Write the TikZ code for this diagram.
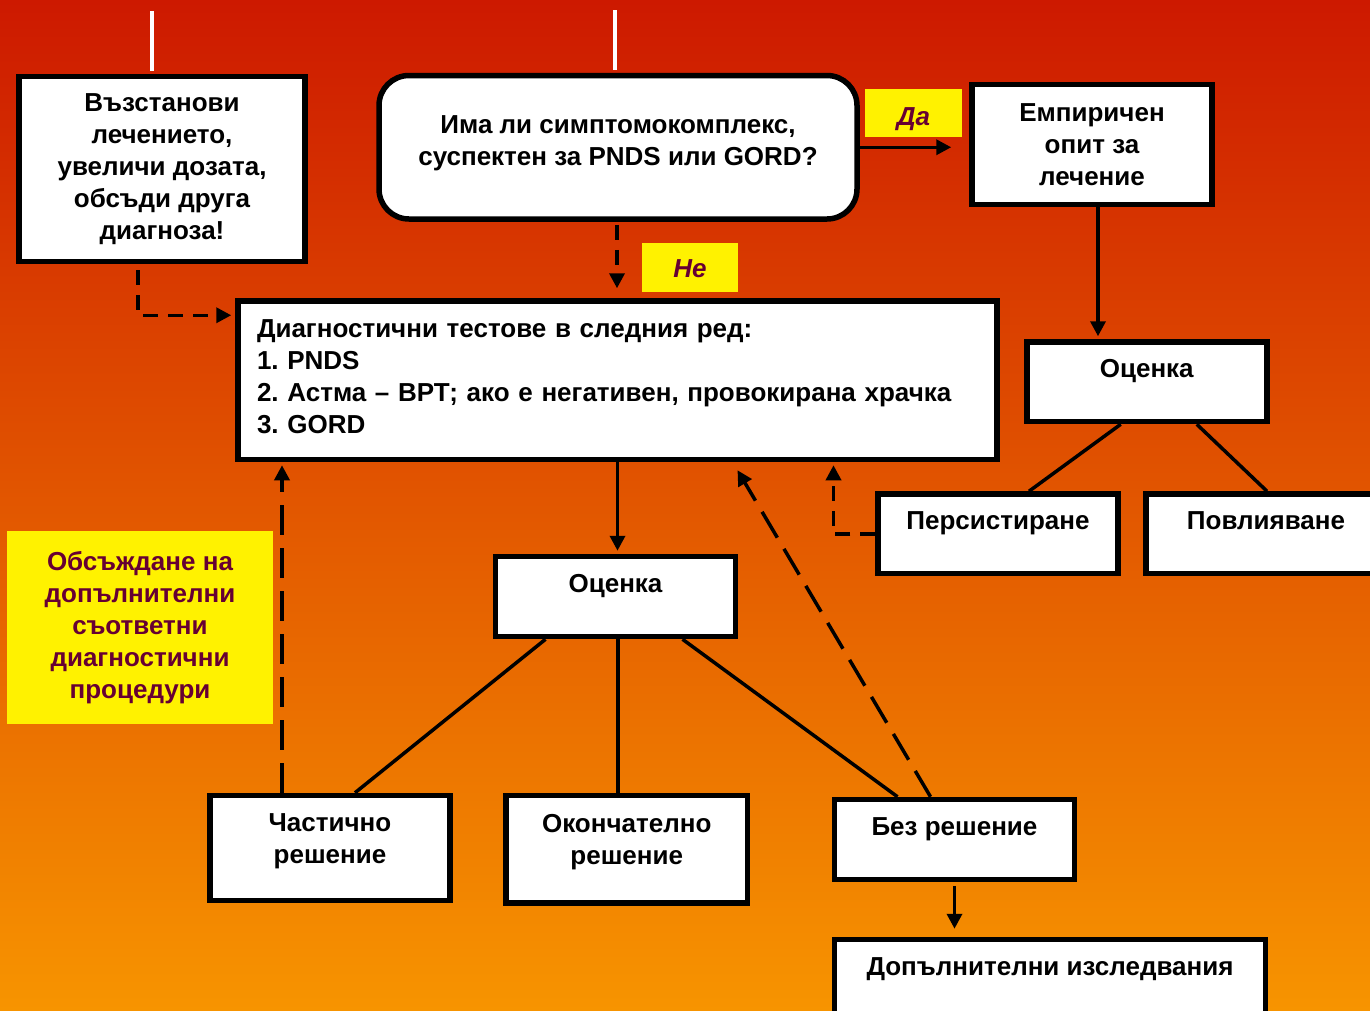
\documentclass[tikz,border=0pt]{standalone}
\usepackage{fontspec}
\setmainfont{Liberation Sans}
\usetikzlibrary{arrows.meta}
\frenchspacing

\definecolor{bgtop}{RGB}{205,25,0}
\definecolor{bgbot}{RGB}{247,148,0}
\definecolor{notered}{RGB}{102,0,51}

\begin{document}
\begin{tikzpicture}[x=1pt, y=-1pt,
  box/.style={draw, line width=5.5pt, fill=white, inner sep=0pt,
    font=\fontsize{26}{32}\selectfont\bfseries},
  upper/.style={text height=19pt, text depth=28pt},
  note/.style={fill=yellow, text=notered, inner sep=0pt,
    font=\fontsize{26}{32}\selectfont\bfseries},
  answer/.style={note, font=\fontsize{26}{32}\selectfont\bfseries\itshape},
  link/.style={line width=3.5pt},
  arr/.style={link, -{Triangle[length=15pt, width=15pt]}},
  dlink/.style={arr, dash pattern=on 15pt off 10pt},
  dlong/.style={arr, dash pattern=on 30pt off 13pt}]

  % -- Background --
  \useasboundingbox (0,0) rectangle (1370,1010);
  \shade[top color=bgtop, bottom color=bgbot] (0,0) rectangle (1370,1010);

  % -- Top row --
  \node[box, minimum width=286pt, minimum height=185pt, align=center] (restore) at (162,169)
    {Възстанови\\лечението,\\увеличи дозата,\\обсъди друга\\диагноза!};
  \node[box, rounded corners=30pt, minimum width=478pt, minimum height=143.5pt, align=center,
    text height=51pt, text depth=14pt] (question) at (618,147.25)
    {Има ли симптомокомплекс,\\суспектен за PNDS или GORD?};
  \node[box, minimum width=240pt, minimum height=120pt, align=center] (empirical) at (1092,144.5)
    {Емпиричен\\опит за\\лечение};
  \node[answer, minimum width=97pt, minimum height=48pt, text height=30pt, text depth=5pt] (yes) at (913.5,113) {Да};
  \node[answer, minimum width=96pt, minimum height=49pt, text height=24pt, text depth=5pt] (no) at (690,267.5) {Не};

  % -- Tests --
  \node[box, minimum width=759pt, minimum height=158.5pt, inner xsep=19pt, text width=721pt, align=left,
    text height=19pt, text depth=104pt] (tests) at (617.5,380.25)
    {Диагностични тестове в следния ред:\\1. PNDS\\2. Астма – ВРТ; ако е негативен, провокирана храчка\\3. GORD};

  % -- Empirical branch --
  \node[box, upper, minimum width=240pt, minimum height=79.5pt] (assessR) at (1146.75,381.75) {Оценка};
  \node[box, upper, minimum width=240pt, minimum height=79.5pt] (persist) at (998,533.75) {Персистиране};
  \node[box, upper, minimum width=240pt, minimum height=79.5pt] (respond) at (1266,533.75) {Повлияване};

  % -- Test branch --
  \node[box, upper, minimum width=240pt, minimum height=80pt] (assessM) at (615.5,596.5) {Оценка};
  \node[box, minimum width=240pt, minimum height=105pt, align=center,
    text height=51pt, text depth=20pt] (partial) at (330,848) {Частично\\решение};
  \node[box, minimum width=241.5pt, minimum height=107.5pt, align=center,
    text height=51pt, text depth=20pt] (final) at (626.75,849.25) {Окончателно\\решение};
  \node[box, upper, minimum width=240pt, minimum height=80pt] (unresolved) at (954.5,839.5) {Без решение};
  \node[box, upper, minimum width=431pt, minimum height=80pt] (further) at (1050,979.5) {Допълнителни изследвания};

  \node[note, minimum width=266pt, minimum height=193pt, align=center] (discuss) at (140,627.5)
    {Обсъждане на\\допълнителни\\съответни\\диагностични\\процедури};

  % -- Feeds from above --
  \draw[white, line width=4pt, shorten <=3pt] ([xshift=-10pt]restore.north) -- ++(0,-63);
  \draw[white, line width=4pt, shorten <=3pt] ([xshift=-3pt]question.north) -- ++(0,-63);

  % -- Connectors --
  \draw[arr] (question.east) -- ([xshift=-18pt]question.east -| empirical.west);
  \draw[arr, shorten >=3pt] ([xshift=6pt]empirical.south) -- ([xshift=6pt]empirical.south |- assessR.north);
  \draw[link] ([xshift=-26pt]assessR.south) -- ([xshift=31pt]persist.north);
  \draw[link] ([xshift=50pt]assessR.south) -- ([xshift=1pt]respond.north);
  \draw[dlink] (persist.west) -| ([xshift=216pt, yshift=-3pt]tests.south);

  \draw[dlink, shorten <=6pt] ([xshift=-24pt]restore.south) |- ([xshift=-4pt, yshift=65pt]tests.west);
  \draw[dlink, shorten <=3pt, shorten >=10pt] ([xshift=-1pt]question.south) -- ([xshift=-1pt]question.south |- tests.north);

  \draw[arr, shorten >=3pt] (tests.south) -- (tests.south |- assessM.north);
  \draw[link] ([xshift=-70pt]assessM.south) -- ([xshift=25pt]partial.north);
  \draw[link] ([xshift=2.5pt]assessM.south) -- ([xshift=2.5pt]assessM.south |- final.north);
  \draw[link] ([xshift=67pt]assessM.south) -- ([xshift=-57pt]unresolved.north);
  \draw[arr, shorten <=4pt, shorten >=8pt] (unresolved.south) -- (unresolved.south |- further.north);

  \draw[dlong] ([xshift=-24pt]unresolved.north) -- ([xshift=120pt, yshift=-8pt]tests.south);
  \draw[dlong, shorten >=3pt] ([xshift=-48pt]partial.north) -- ([xshift=-48pt]partial.north |- tests.south);

\end{tikzpicture}
\end{document}
